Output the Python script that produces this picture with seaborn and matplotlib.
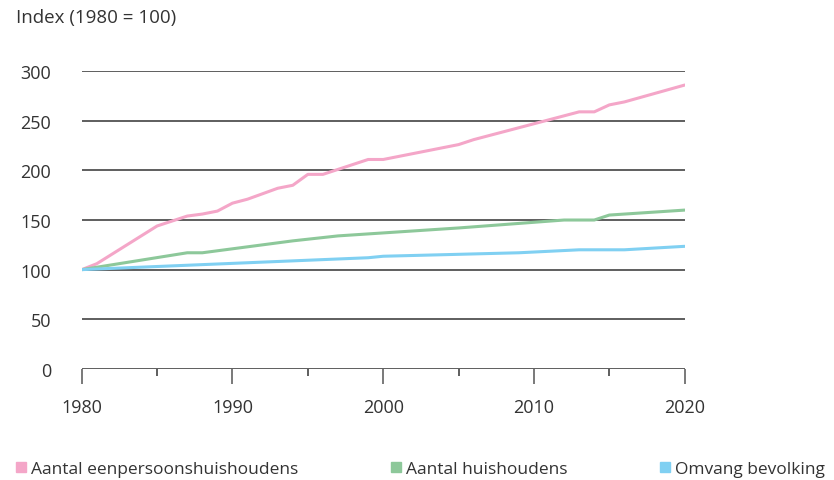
import matplotlib
matplotlib.use("Agg")
import matplotlib.pyplot as plt
from matplotlib.ticker import MultipleLocator
import seaborn as sns
import pandas as pd

# Waarden (index 1980 = 100)
jaren_een = [1980, 1981, 1985, 1987, 1988, 1989, 1990, 1991, 1993, 1994, 1995,
             1996, 1999, 2000, 2005, 2006, 2013, 2014, 2015, 2016, 2020]
eenpersoons = [100, 106, 144, 154, 156, 159, 167, 171, 182, 185, 196,
               196, 211, 211, 226, 231, 259, 259, 266, 269, 286]

jaren_hh = [1980, 1987, 1988, 1994, 1997, 2000, 2005, 2012, 2014, 2015, 2020]
huishoudens = [100, 117, 117, 129, 134, 137, 142, 150, 150, 155, 160]

jaren_bev = [1980, 1999, 2000, 2009, 2013, 2016, 2020]
bevolking = [100, 112, 113.5, 117, 120, 120, 123.5]

series = ["Aantal eenpersoonshuishoudens", "Aantal huishoudens", "Omvang bevolking"]
kleuren = ["#F4A6C8", "#8DC89A", "#80D0F2"]

df = pd.concat([
    pd.DataFrame({"jaar": jaren_een, "index": eenpersoons, "reeks": series[0]}),
    pd.DataFrame({"jaar": jaren_hh, "index": huishoudens, "reeks": series[1]}),
    pd.DataFrame({"jaar": jaren_bev, "index": bevolking, "reeks": series[2]}),
])

sns.set_style("white")
plt.rcParams["font.family"] = ["Open Sans", "DejaVu Sans"]
plt.rcParams["text.color"] = "#333333"

fig = plt.figure(figsize=(8.34, 4.81), dpi=100)
ax = fig.add_axes([0.098, 0.231, 0.723, 0.619])

for y in range(0, 301, 50):
    ax.axhline(y, color="#333333", lw=1.1, zorder=1)

sns.lineplot(data=df, x="jaar", y="index", hue="reeks", palette=kleuren,
             hue_order=series, lw=2.2, ax=ax, legend=False, zorder=3, sort=False)

ax.set_xlim(1980, 2020)
ax.set_ylim(0, 300)
ax.set_yticks(range(0, 301, 50))
ax.xaxis.set_major_locator(MultipleLocator(10))
ax.xaxis.set_minor_locator(MultipleLocator(5))
for s in ax.spines.values():
    s.set_visible(False)
ax.tick_params(axis="y", length=0, labelsize=13, labelcolor="#333333", pad=22)
ax.tick_params(axis="x", which="major", length=11, width=1.1, color="#555555",
               labelsize=13, labelcolor="#333333", pad=10, direction="out", bottom=True)
ax.tick_params(axis="x", which="minor", length=5, width=1.1, color="#333333",
               direction="out", bottom=True)
ax.set_xlabel("")
ax.set_ylabel("")

fig.text(0.019, 0.962, "Index (1980 = 100)", fontsize=13.5, color="#333333", va="center")

handles = [plt.Line2D([], [], marker="s", ls="", color=c, markersize=7) for c in kleuren]
fig.legend(handles, series, ncol=3, loc="lower left", mode="expand",
           bbox_to_anchor=(0.007, -0.008, 0.99, 0.06), frameon=False,
           fontsize=12.5, handletextpad=0.05, handlelength=1.0, borderaxespad=0)

fig.savefig("out.png", dpi=100)
